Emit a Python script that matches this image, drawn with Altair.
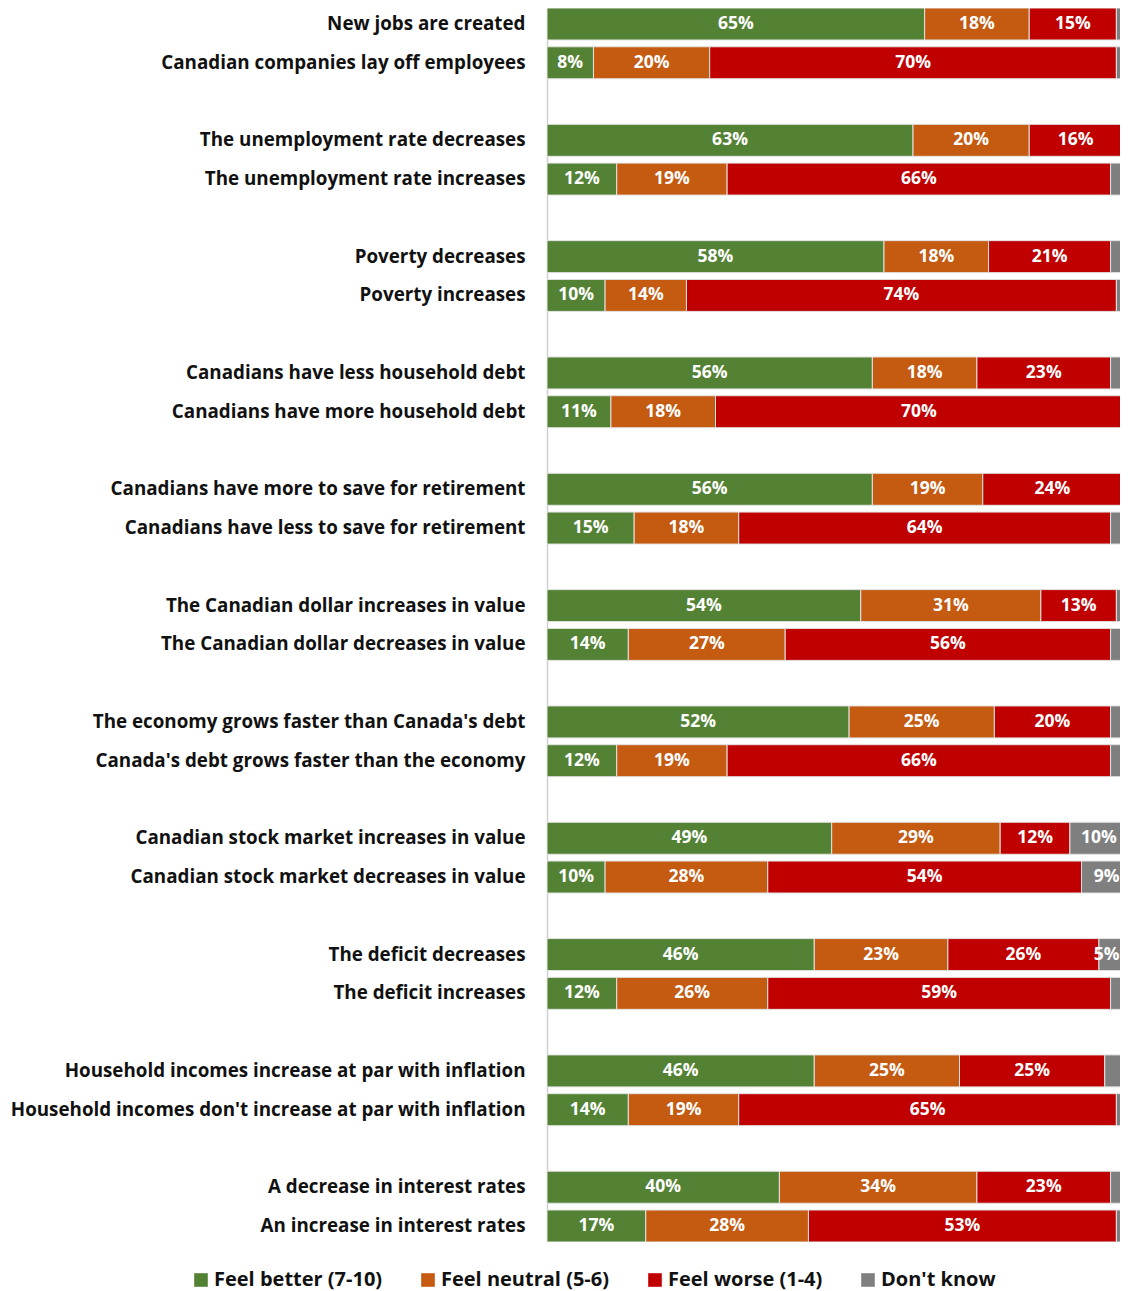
import altair as alt
import pandas as pd

labels = [
    "New jobs are created",
    "Canadian companies lay off employees",
    "The unemployment rate decreases",
    "The unemployment rate increases",
    "Poverty decreases",
    "Poverty increases",
    "Canadians have less household debt",
    "Canadians have more household debt",
    "Canadians have more to save for retirement",
    "Canadians have less to save for retirement",
    "The Canadian dollar increases in value",
    "The Canadian dollar decreases in value",
    "The economy grows faster than Canada's debt",
    "Canada's debt grows faster than the economy",
    "Canadian stock market increases in value",
    "Canadian stock market decreases in value",
    "The deficit decreases",
    "The deficit increases",
    "Household incomes increase at par with inflation",
    "Household incomes don't increase at par with inflation",
    "A decrease in interest rates",
    "An increase in interest rates",
]
better = [65, 8, 63, 12, 58, 10, 56, 11, 56, 15, 54, 14, 52, 12, 49, 10, 46, 12, 46, 14, 40, 17]
neutral = [18, 20, 20, 19, 18, 14, 18, 18, 19, 18, 31, 27, 25, 19, 29, 28, 23, 26, 25, 19, 34, 28]
worse = [15, 70, 16, 66, 21, 74, 23, 70, 24, 64, 13, 56, 20, 66, 12, 54, 26, 59, 25, 65, 23, 53]
dont_know = [2, 2, 1, 3, 2, 1, 3, 1, 1, 3, 2, 2, 3, 3, 10, 9, 5, 3, 3, 2, 3, 2]

cats = ["Feel better (7-10)", "Feel neutral (5-6)", "Feel worse (1-4)", "Don't know"]
colors = ["#548235", "#C55A11", "#C00000", "#7F7F7F"]

series = [better, neutral, worse, dont_know]
rows = []
for i, lab in enumerate(labels):
    for k, c in enumerate(cats):
        rows.append({"label": lab, "cat": c, "order": k, "value": series[k][i]})
df = pd.DataFrame(rows)

# y domain with blank spacer rows between pairs
domain = []
for i in range(0, len(labels), 2):
    if i > 0:
        domain.append(" " * (i // 2))
    domain += [labels[i], labels[i + 1]]

FONT = "Open Sans"
PLOT_W = 573
XMAX = 100 * PLOT_W / 581.0  # the reference crops the bars at its right edge

base = alt.Chart(df).transform_stack(
    stack="value",
    groupby=["label"],
    as_=["x0", "x1"],
    sort=[alt.SortField("order", order="ascending")],
)

yenc = alt.Y(
    "label:N",
    scale=alt.Scale(domain=domain, paddingInner=0.175, paddingOuter=0),
    axis=alt.Axis(
        title=None,
        ticks=False,
        domainColor="#D0D0D0",
        domainWidth=1.5,
        labelFontSize=18.8,
        labelFont=FONT,
        labelFontWeight="bold",
        labelColor="#111111",
        labelPadding=22,
        labelLimit=0,
    ),
)

bars = base.mark_bar(stroke="#E3E3E3", strokeWidth=1, clip=True).encode(
    y=yenc,
    x=alt.X("x0:Q", scale=alt.Scale(domain=[0, XMAX], nice=False), axis=None),
    x2="x1:Q",
    color=alt.Color(
        "cat:N",
        scale=alt.Scale(domain=cats, range=colors),
        legend=alt.Legend(
            title=None,
            orient="none",
            direction="horizontal",
            legendX=-356,
            legendY=1262,
            symbolType="square",
            symbolSize=185,
            symbolStrokeWidth=0,
            symbolOpacity=1,
            labelFont=FONT,
            labelFontSize=20,
            labelFontWeight="bold",
            labelColor="#111111",
            labelOffset=3,
            columnPadding=35,
            labelLimit=0,
            padding=0,
        ),
    ),
)

text = base.transform_filter("datum.value >= 5").transform_calculate(
    mid=f"min((datum.x0 + datum.x1) / 2, {XMAX - 2.3})", txt="datum.value + '%'"
).mark_text(
    color="white", font=FONT, fontWeight="bold", fontSize=17.5, align="center", baseline="middle"
).encode(
    y=alt.Y("label:N"),
    x=alt.X("mid:Q"),
    text="txt:N",
)

chart = alt.layer(bars, text).properties(
    width=PLOT_W,
    height=1234,
    autosize=alt.AutoSizeParams(type="none"),
    padding={"left": 539, "top": 0, "right": 0, "bottom": 49},
).configure_view(stroke=None)

chart.save("out.html", embed_options={"renderer": "svg", "actions": False})
